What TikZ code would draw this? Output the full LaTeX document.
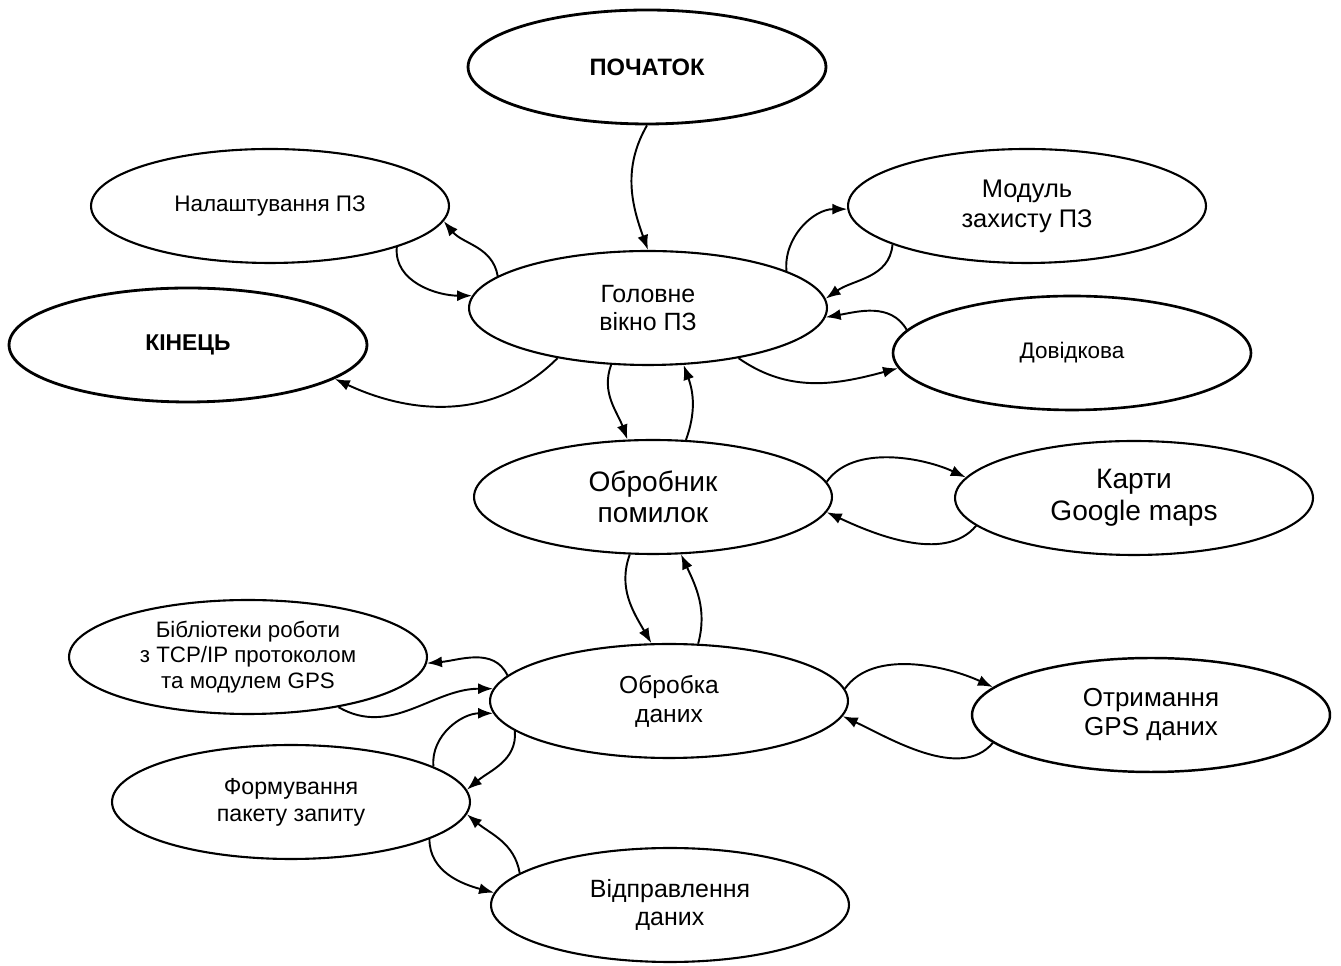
\documentclass[tikz,border=0pt]{standalone}
\usepackage{fontspec}
\setmainfont{Liberation Sans}
\usetikzlibrary{shapes.geometric, arrows.meta}

\begin{document}
\begin{tikzpicture}[x=0.02cm, y=0.02cm, >={Latex[length=3mm, width=2.2mm]},
    state/.style={ellipse, draw, line width=1.2pt, minimum width=7.16cm,
                  minimum height=2.28cm, inner sep=0pt, align=center},
    term/.style={state, line width=1.6pt, font=\bfseries\fontsize{13.5}{16}\selectfont},
    link/.style={->, line width=1.1pt}]
    \useasboundingbox (0,0) rectangle (1341,966);

    % States
    \node[term] (start) at (647,899) {ПОЧАТОК};
    \node[state, font=\fontsize{12.8}{15}\selectfont] (setup) at (270,760) {Налаштування ПЗ};
    \node[state, font=\fontsize{14.5}{17}\selectfont] (guard) at (1027,760) {Модуль\\захисту ПЗ};
    \node[state, font=\fontsize{14.2}{15.5}\selectfont] (main) at (648,658) {Головне\\вікно ПЗ};
    \node[term, font=\bfseries\fontsize{13}{16}\selectfont] (finish) at (188,621) {КІНЕЦЬ};
    \node[state, line width=1.5pt, font=\fontsize{12.8}{15}\selectfont] (help) at (1072,613) {Довідкова};
    \node[state, font=\fontsize{16}{17.5}\selectfont] (errors) at (653,469) {Обробник\\помилок};
    \node[state, font=\fontsize{16}{18}\selectfont] (maps) at (1134,468) {Карти\\Google maps};
    \node[state, font=\fontsize{12.7}{14.7}\selectfont] (libs) at (248,309) {Бібліотеки роботи\\з TCP/IP протоколом\\та модулем GPS};
    \node[state, font=\fontsize{14}{16.5}\selectfont] (proc) at (669,265) {Обробка\\даних};
    \node[state, line width=1.4pt, font=\fontsize{14.8}{16.5}\selectfont] (gps) at (1151,251) {Отримання\\GPS даних};
    \node[state, font=\fontsize{13.2}{15.3}\selectfont] (packet) at (291,164) {Формування\\пакету запиту};
    \node[state, font=\fontsize{14.2}{16}\selectfont] (send) at (670,61) {Відправлення\\даних};

    % Arrows, top part
    \draw[link] (start.south) to[out=-120, in=110] (main.north);
    \draw[link] (main.168) to[out=100, in=-50] (setup.-5);
    \draw[link] (setup.-18) to[out=-95, in=180] (main.176);
    \draw[link] (main.209) to[out=-135, in=-25] (finish.-13);
    \draw[link] (main.15) to[out=95, in=180] (guard.181);
    \draw[link] (guard.196) to[out=-95, in=35] (main.3);
    \draw[link] (help.172) to[out=120, in=10] (main.-3);
    \draw[link] (main.-29) to[out=-35, in=195] (help.185);

    % Arrows, middle part
    \draw[link] (main.237) to[out=-110, in=110] (errors.114);
    \draw[link] (errors.60) to[out=70, in=-70] (main.-58);
    \draw[link] (errors.5) to[out=55, in=155, looseness=0.85] (maps.173);
    \draw[link] (maps.190) to[out=-130, in=-25, looseness=0.85] (errors.-5);
    \draw[link] (errors.248) to[out=-110, in=120] (proc.107);
    \draw[link] (proc.63) to[out=75, in=-65] (errors.-64);

    % Arrows, bottom part
    \draw[link] (proc.171) to[out=115, in=5] (libs.-2);
    \draw[link] (libs.-29) to[out=-30, in=180] (proc.176);
    \draw[link] (packet.14) to[out=95, in=180] (proc.184);
    \draw[link] (proc.191) to[out=-85, in=40] (packet.4);
    \draw[link] (packet.-15) to[out=-90, in=165] (send.176);
    \draw[link] (send.168) to[out=100, in=-40] (packet.-4);
    \draw[link] (proc.4) to[out=55, in=155, looseness=0.85] (gps.170);
    \draw[link] (gps.190) to[out=-130, in=-25, looseness=0.85] (proc.-5);
\end{tikzpicture}
\end{document}
